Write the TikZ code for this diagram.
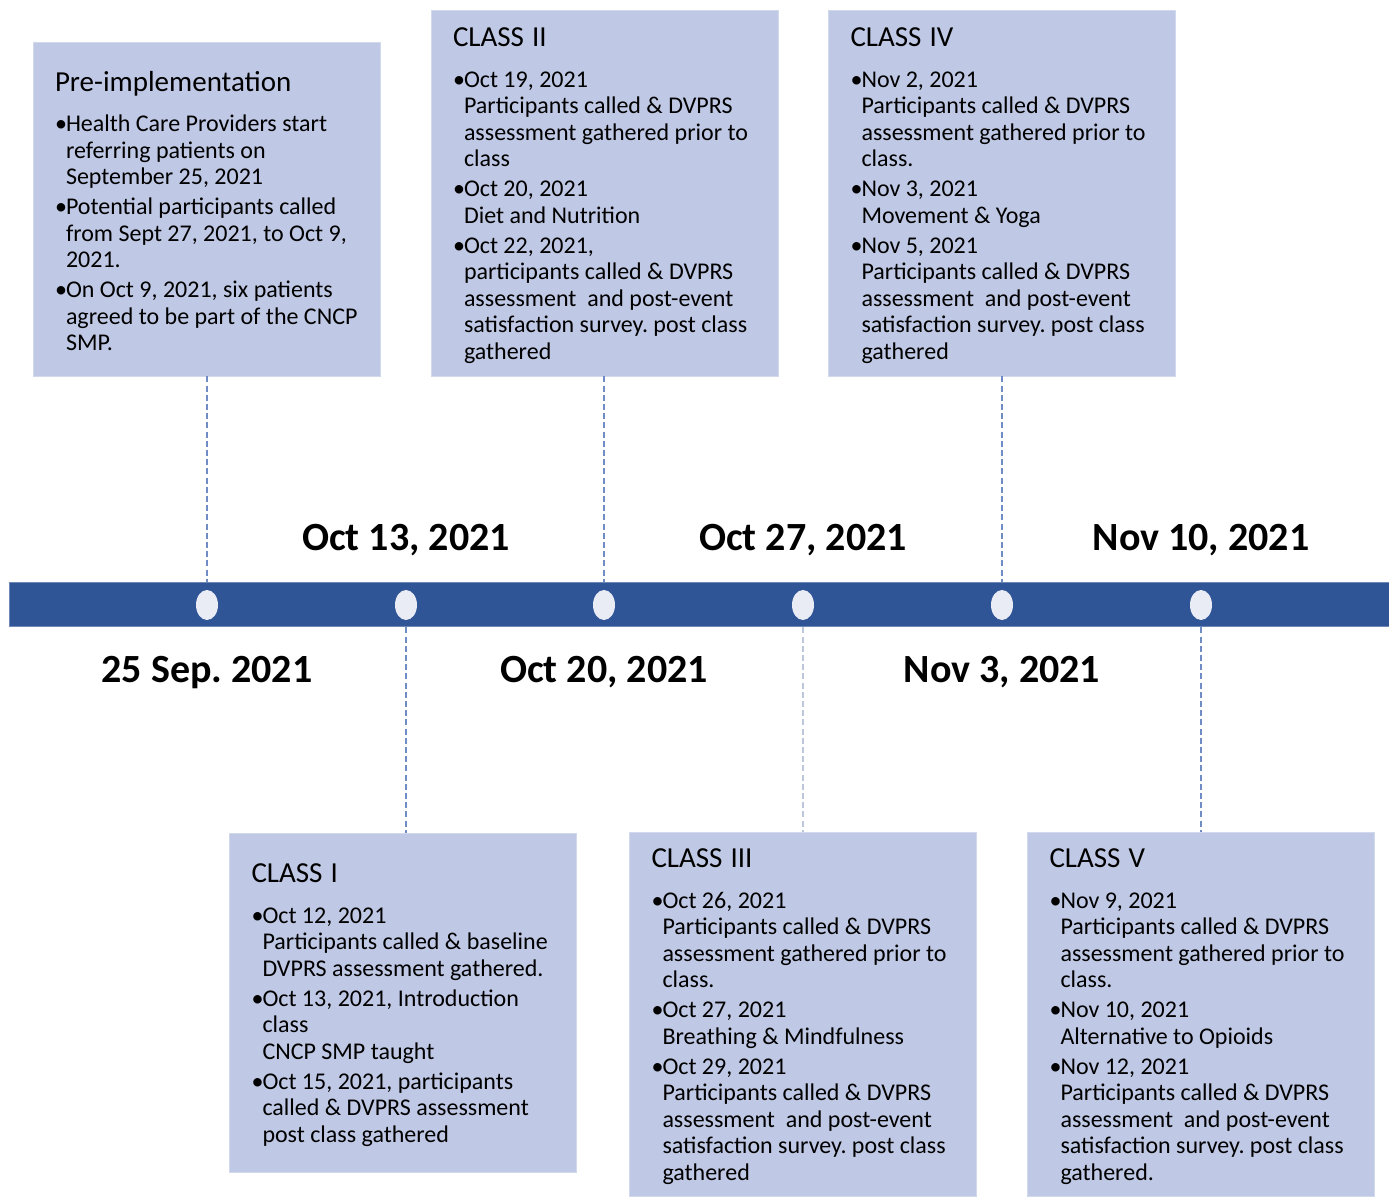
\documentclass[tikz,border=0pt]{standalone}
\usepackage{fontspec}
\setmainfont{Carlito}
\usetikzlibrary{shapes.geometric}
\frenchspacing
\definecolor{barblue}{RGB}{47,85,151}
\definecolor{boxfill}{RGB}{191,200,228}
\definecolor{dotfill}{RGB}{233,235,245}
\definecolor{tickblue}{RGB}{112,140,196}
\definecolor{tickgrey}{RGB}{190,198,222}
\newcommand{\evtitle}[1]{{\fontsize{14.5}{13.25}\selectfont\rule{0pt}{12pt}#1}}
\newcommand{\evitem}[1]{\mbox{\spaceskip=0.226em\makebox[5.5pt][l]{\textbullet}#1}}
\newcommand{\evline}[1]{\mbox{\spaceskip=0.226em\hspace*{5.5pt}#1}}
\tikzset{
  evbox/.style={rectangle, fill=boxfill, draw=boxfill!70!white, line width=0.4pt,
    text width=151.5pt, inner xsep=11pt, inner ysep=0pt, align=left,
    font=\fontsize{12}{13.25}\selectfont},
  datelbl/.style={font=\fontsize{20}{24}\selectfont\bfseries},
  dotmark/.style={ellipse, fill=dotfill, minimum width=11pt, minimum height=15pt, inner sep=0pt},
  evtick/.style={tickblue, line width=0.75pt, dash pattern=on 3pt off 1.6pt},
}

\begin{document}
\begin{tikzpicture}[x=0.5pt,y=-0.5pt]
  \useasboundingbox (0,0) rectangle (1389,1197);
  \node[fill=barblue, draw=barblue!70!white, line width=0.5pt, minimum width=690pt,
    minimum height=22pt, inner sep=0pt] (bar) at (699,605) {};
  \foreach \x [count=\i] in {207,406,604,803,1002,1201}
    \node[dotmark] (d\i) at (\x,605) {};

  \node[datelbl] (t1) at (207,672.5) {25 Sep. 2021};
  \node[datelbl] (t2) at (406,540.5) {Oct 13, 2021};
  \node[datelbl] (t3) at (604,672.5) {Oct 20, 2021};
  \node[datelbl] (t4) at (803,540.5) {Oct 27, 2021};
  \node[datelbl] (t5) at (1002,672.5) {Nov 3, 2021};
  \node[datelbl] (t6) at (1201,540.5) {Nov 10, 2021};

  \node[evbox, minimum height=167pt] (pre) at (206.5,209) {\evtitle{Pre-implementation}\\[7pt]
    \evitem{Health Care Providers start}\\ \evline{referring patients on}\\ \evline{September 25, 2021}\\[1.75pt]
    \evitem{Potential participants called}\\ \evline{from Sept 27, 2021, to Oct 9,}\\ \evline{2021.}\\[1.75pt]
    \evitem{On Oct 9, 2021, six patients}\\ \evline{agreed to be part of the CNCP}\\ \evline{SMP.}};
  \node[evbox, minimum height=183pt] (c2) at (604.5,193) {\evtitle{CLASS II}\\[7pt]
    \evitem{Oct 19, 2021}\\ \evline{Participants called \& DVPRS}\\ \evline{assessment gathered prior to}\\ \evline{class}\\[1.75pt]
    \evitem{Oct 20, 2021}\\ \evline{Diet and Nutrition}\\[1.75pt]
    \evitem{Oct 22, 2021,}\\ \evline{participants called \& DVPRS}\\ \evline{assessment~ and post-event}\\ \evline{satisfaction survey. post class}\\ \evline{gathered}};
  \node[evbox, minimum height=183pt] (c4) at (1002,193) {\evtitle{CLASS IV}\\[7pt]
    \evitem{Nov 2, 2021}\\ \evline{Participants called \& DVPRS}\\ \evline{assessment gathered prior to}\\ \evline{class.}\\[1.75pt]
    \evitem{Nov 3, 2021}\\ \evline{Movement \& Yoga}\\[1.75pt]
    \evitem{Nov 5, 2021}\\ \evline{Participants called \& DVPRS}\\ \evline{assessment~ and post-event}\\ \evline{satisfaction survey. post class}\\ \evline{gathered}};
  \node[evbox, minimum height=169.5pt] (c1) at (403,1002.5) {\evtitle{CLASS I}\\[7pt]
    \evitem{Oct 12, 2021}\\ \evline{Participants called \& baseline}\\ \evline{DVPRS assessment gathered.}\\[1.75pt]
    \evitem{Oct 13, 2021, Introduction}\\ \evline{class}\\ \evline{CNCP SMP taught}\\[1.75pt]
    \evitem{Oct 15, 2021, participants}\\ \evline{called \& DVPRS assessment}\\ \evline{post class gathered}};
  \node[evbox, minimum height=182pt] (c3) at (803,1014) {\evtitle{CLASS III}\\[7pt]
    \evitem{Oct 26, 2021}\\ \evline{Participants called \& DVPRS}\\ \evline{assessment gathered prior to}\\ \evline{class.}\\[1.75pt]
    \evitem{Oct 27, 2021}\\ \evline{Breathing \& Mindfulness}\\[1.75pt]
    \evitem{Oct 29, 2021}\\ \evline{Participants called \& DVPRS}\\ \evline{assessment~ and post-event}\\ \evline{satisfaction survey. post class}\\ \evline{gathered}};
  \node[evbox, minimum height=182pt] (c5) at (1201,1014) {\evtitle{CLASS V}\\[7pt]
    \evitem{Nov 9, 2021}\\ \evline{Participants called \& DVPRS}\\ \evline{assessment gathered prior to}\\ \evline{class.}\\[1.75pt]
    \evitem{Nov 10, 2021}\\ \evline{Alternative to Opioids}\\[1.75pt]
    \evitem{Nov 12, 2021}\\ \evline{Participants called \& DVPRS}\\ \evline{assessment~ and post-event}\\ \evline{satisfaction survey. post class}\\ \evline{gathered.}};

  \draw[evtick] (d1 |- pre.south) -- (d1 |- bar.north);
  \draw[evtick] (d3 |- c2.south) -- (d3 |- bar.north);
  \draw[evtick] (d5 |- c4.south) -- (d5 |- bar.north);
  \draw[evtick] (d2 |- bar.south) -- (d2 |- c1.north);
  \draw[evtick, tickgrey] (d4 |- bar.south) -- (d4 |- c3.north);
  \draw[evtick] (d6 |- bar.south) -- (d6 |- c5.north);
\end{tikzpicture}
\end{document}
